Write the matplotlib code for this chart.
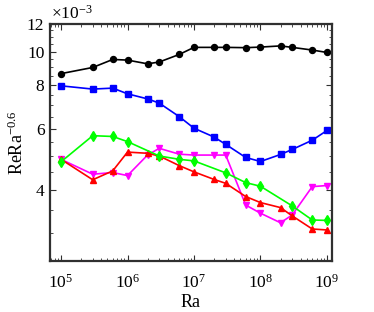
import numpy as np
import matplotlib
matplotlib.use("Agg")
import matplotlib.pyplot as plt
from matplotlib.ticker import FixedLocator, NullFormatter, LogLocator

plt.rcParams['font.family'] = ['Liberation Serif', 'DejaVu Serif']
plt.rcParams['mathtext.fontset'] = 'custom'
plt.rcParams['mathtext.rm'] = 'Liberation Serif'
plt.rcParams['mathtext.it'] = 'Liberation Serif:italic'
plt.rcParams['mathtext.bf'] = 'Liberation Serif:bold'

ra_full = [1e5, 3e5, 6e5, 1e6, 2e6, 3e6, 6e6, 1e7, 2e7, 3e7, 6e7, 1e8, 2e8, 3e8, 6e8, 1e9]
ra_green = [1e5, 3e5, 6e5, 1e6, 3e6, 6e6, 1e7, 3e7, 6e7, 1e8, 3e8, 6e8, 1e9]

black = [8.64, 9.00, 9.49, 9.45, 9.22, 9.33, 9.81, 10.28, 10.28, 10.28, 10.26, 10.30, 10.38, 10.28, 10.10, 9.94]
blue = [7.97, 7.80, 7.85, 7.56, 7.31, 7.11, 6.50, 6.02, 5.68, 5.41, 4.96, 4.83, 5.06, 5.23, 5.56, 5.93]
green = [4.82, 5.73, 5.70, 5.51, 5.01, 4.90, 4.85, 4.48, 4.20, 4.10, 3.60, 3.28, 3.27]
red = [4.90, 4.28, 4.54, 5.14, 5.10, 5.01, 4.70, 4.51, 4.29, 4.18, 3.83, 3.68, 3.56, 3.37, 3.09, 3.07]
magenta = [4.90, 4.44, 4.49, 4.40, 5.04, 5.27, 5.07, 5.04, 5.04, 5.04, 3.62, 3.43, 3.22, 3.39, 4.09, 4.12]

yticks = [4, 6, 8, 10, 12]
ytick_labels = ['4', '6', '8', '10', '12']

fig = plt.figure(figsize=(3.74, 3.12), dpi=100)
ax = fig.add_axes([50/374, 51/312, 282/374, 237/312])

s = 1e-3
lw = 1.2
ms = 4.3
ax.plot(ra_full, np.array(black)*s, '-o', color='black', lw=lw, ms=ms)
ax.plot(ra_full, np.array(blue)*s, '-s', color=(0, 0, 1), lw=lw, ms=ms-0.5)
ax.plot(ra_full, np.array(magenta)*s, '-v', color=(1, 0, 1), lw=lw, ms=ms+0.5)
ax.plot(ra_full, np.array(red)*s, '-^', color=(1, 0, 0), lw=lw, ms=ms+0.5)
ax.plot(ra_green, np.array(green)*s, '-d', color=(0, 1, 0), lw=lw, ms=ms+0.5)

ax.set_xscale('log')
ax.set_yscale('log')
ax.set_xlim(6.83e4, 1.19e9)
ax.set_ylim(2.5e-3, 12e-3)

ax.xaxis.set_major_locator(FixedLocator([1e5, 1e6, 1e7, 1e8, 1e9]))
ax.xaxis.set_minor_locator(LogLocator(base=10, subs=np.arange(2, 10), numticks=20))
ax.xaxis.set_minor_formatter(NullFormatter())

ax.yaxis.set_major_locator(FixedLocator([v*s for v in yticks]))
ax.set_yticklabels(ytick_labels)
ax.yaxis.set_minor_locator(FixedLocator([v*s for v in np.arange(2.5, 12.01, 0.5) if v not in yticks]))
ax.yaxis.set_minor_formatter(NullFormatter())

ax.tick_params(which='both', direction='in', top=True, right=True, labelsize=12.5, color='#303030')
ax.tick_params(which='major', length=4, width=0.8, pad=4)
ax.tick_params(which='minor', length=2.2, width=0.6)
ax.tick_params(axis='x', which='major', pad=9)
for sp in ax.spines.values():
    sp.set_linewidth(1.6)
    sp.set_color('#303030')

ax.set_xlabel('Ra', fontsize=13, labelpad=2)
ax.set_ylabel('ReRa$^{-0.6}$', fontsize=13, labelpad=0)
ax.text(0.005, 1.005, r'$\times10^{-3}$', transform=ax.transAxes, fontsize=12.5, ha='left', va='bottom')

fig.savefig('out.png', dpi=100)
